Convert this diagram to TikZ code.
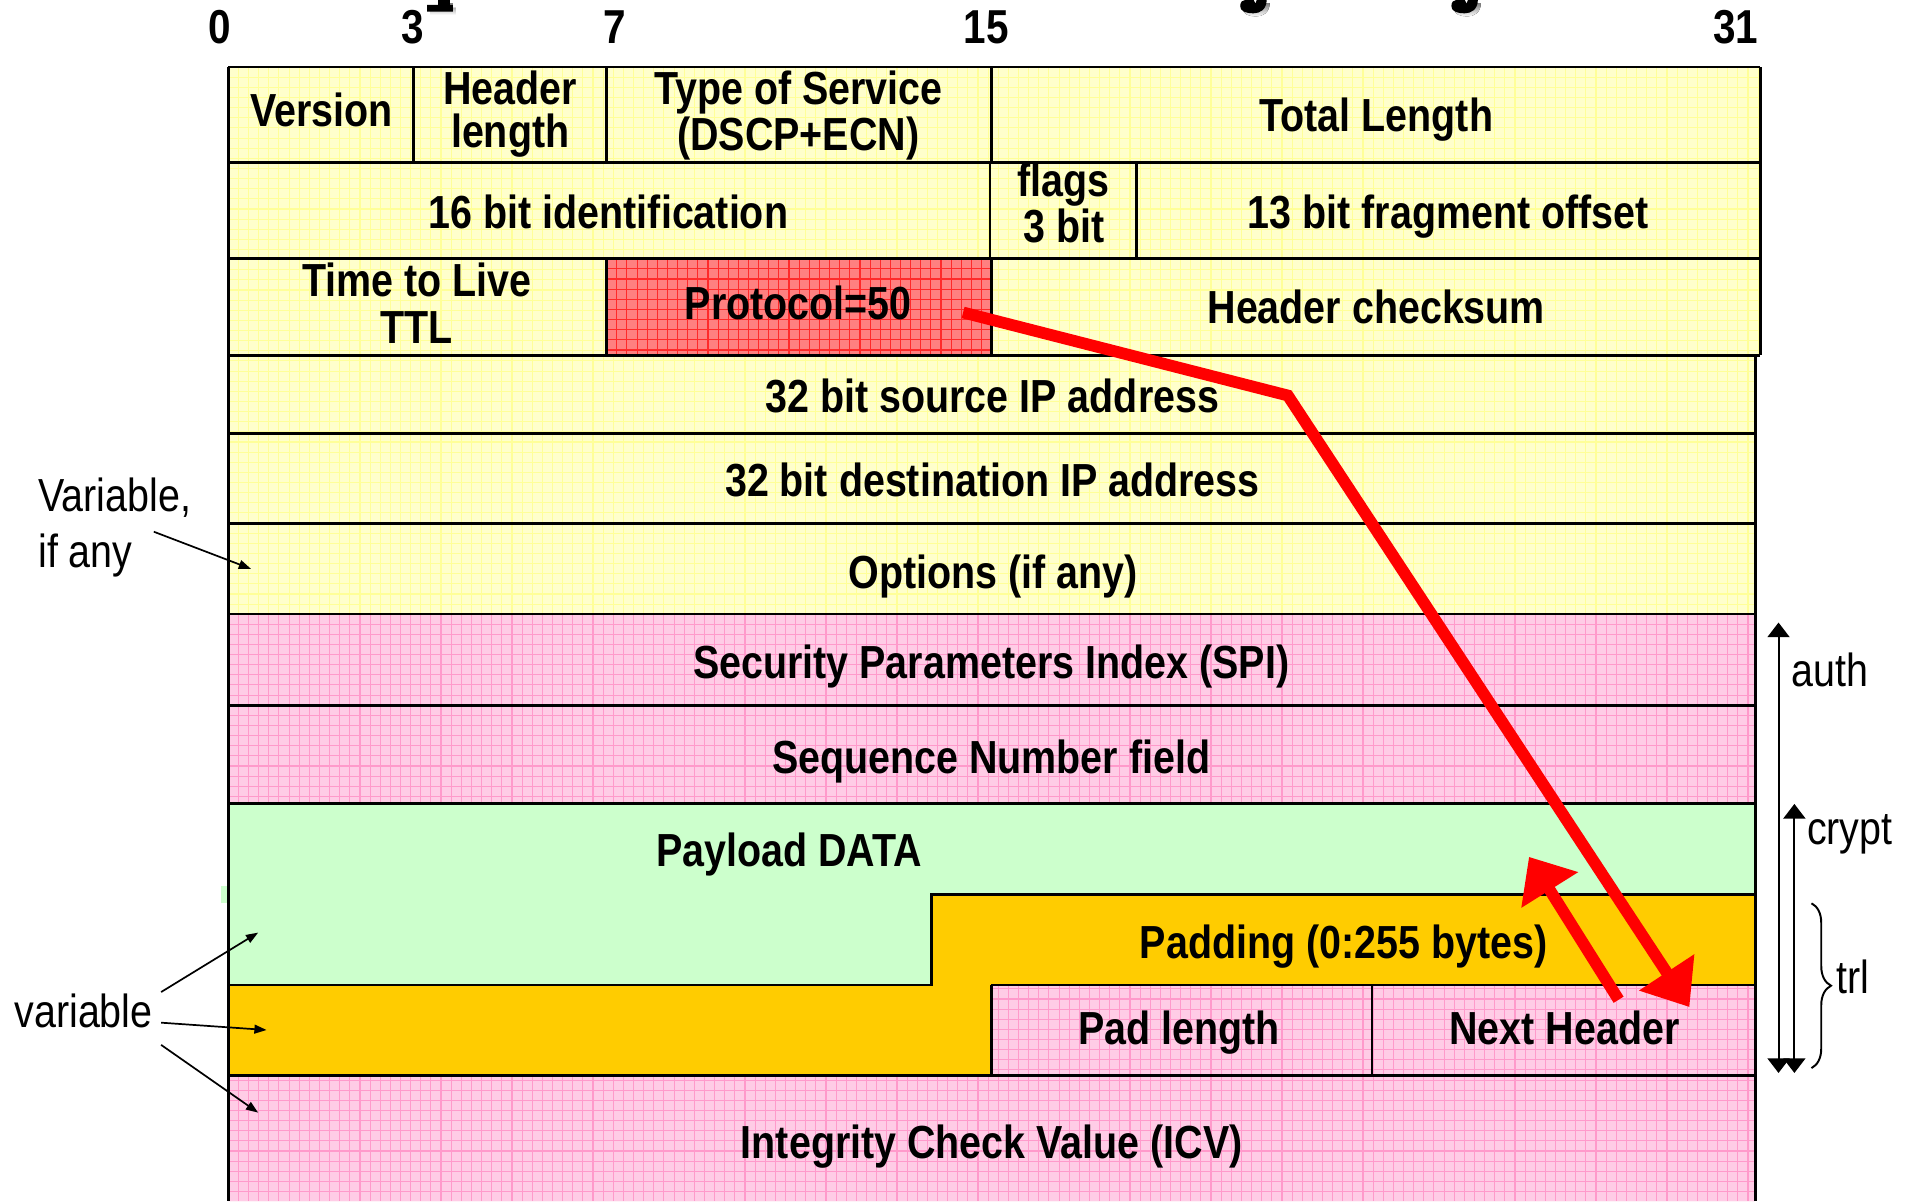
\documentclass[tikz,border=0pt]{standalone}
\usepackage{fontspec}
\setmainfont{Liberation Sans}[FakeStretch=0.85]
\usetikzlibrary{arrows.meta,decorations.pathreplacing}

\definecolor{ylwbg}{HTML}{FFFFCC}
\definecolor{ylwln}{HTML}{FFFF99}
\definecolor{pnkbg}{HTML}{FFCCE6}
\definecolor{pnkln}{HTML}{FF9ACB}
\definecolor{redbg}{HTML}{FF8080}
\definecolor{redln}{HTML}{FF2A2A}
\definecolor{grnbg}{HTML}{CCFFCC}
\definecolor{orgbg}{HTML}{FFCC00}
\definecolor{ptrred}{HTML}{FF0000}
\definecolor{shade}{HTML}{BDBDBD}

\begin{document}
\begin{tikzpicture}[x=0.5pt,y=-0.5pt,
  field/.style={font=\bfseries\fontsize{19}{17.5}\selectfont, inner sep=0pt, anchor=base, align=center},
  bitnum/.style={font=\bfseries\fontsize{19.5}{20}\selectfont, inner sep=0pt, anchor=base},
  note/.style={font=\fontsize{19}{23}\selectfont, inner sep=0pt, anchor=base west, align=left},
  rule/.style={line width=1.1pt, line join=miter},
  gridln/.style={line width=0.45pt},
  thinarrow/.style={line width=0.7pt, -{Triangle[length=5pt,width=3.6pt]}},
  spanarrow/.style={line width=0.8pt, {Triangle[length=6pt,width=9pt]}-{Triangle[length=6pt,width=9pt]}},
  pointer/.style={draw=ptrred, line width=4.8pt, line join=miter}
]
\useasboundingbox (0,0) rectangle (1568,984);

% ---- ends of the heading glyphs above the bit ruler ----
\begin{scope}[shift={(2.5,2.5)}]
  \fill[shade] (350,9.6) -- (350,4) -- (359,4) -- (359,0) -- (368.6,0) -- (368.6,4) -- (371,4) -- (371,9.6) -- cycle;
  \foreach \tx in {1016,1189}{
    \fill[shade,shift={(\tx,0)}] (21.7,0) .. controls (21.5,8) and (16,10.9) .. (11,10.9)
      .. controls (4,10.9) and (0,9) .. (0,5) .. controls (0,1.5) and (2,0) .. (4,0) -- (11,0)
      .. controls (11.5,2) .. (12.5,3) .. controls (13.2,2) .. (13.5,0) -- cycle;}
\end{scope}
\fill (350,9.6) -- (350,4) -- (359,4) -- (359,0) -- (368.6,0) -- (368.6,4) -- (371,4) -- (371,9.6) -- cycle;
\foreach \tx in {1016,1189}{
  \fill[shift={(\tx,0)}] (21.7,0) .. controls (21.5,8) and (16,10.9) .. (11,10.9)
    .. controls (4,10.9) and (0,9) .. (0,5) .. controls (0,1.5) and (2,0) .. (4,0) -- (11,0)
    .. controls (11.5,2) .. (12.5,3) .. controls (13.2,2) .. (13.5,0) -- cycle;}

% ---- bit ruler ----
\node[bitnum] (b0)  at (180,36)  {0};
\node[bitnum] (b3)  at (338,36)  {3};
\node[bitnum] (b7)  at (504,36)  {7};
\node[bitnum] (b15) at (808,36)  {15};
\node[bitnum] (b31) at (1422,36) {31};

% ---- IP header (yellow, gridded) ----
\begin{scope}
  \clip (187,55) rectangle (1442,291) (187,291) rectangle (1438,503);
  \fill[ylwbg] (187,55) rectangle (1442,503);
  \foreach \i in {0,...,152} \draw[gridln,ylwln] ({187+\i*8.3},55) -- ++(0,448);
  \foreach \j in {0,...,54}  \draw[gridln,ylwln] (187,{55+\j*8.3}) -- ++(1255,0);
\end{scope}

% ---- protocol field (red, gridded) ----
\begin{scope}
  \clip (497,212) rectangle (812,291);
  \fill[redbg] (497,212) rectangle (812,291);
  \foreach \i in {0,...,38} \draw[gridln,redln] ({497+\i*8.3},212) -- ++(0,79);
  \foreach \j in {0,...,10} \draw[gridln,redln] (497,{212+\j*8.3}) -- ++(315,0);
\end{scope}

% ---- ESP header, trailer fields and ICV (pink, gridded) ----
\begin{scope}
  \clip (187,503) rectangle (1438,658) (812,807) rectangle (1438,881) (187,881) rectangle (1438,984);
  \fill[pnkbg] (187,503) rectangle (1438,984);
  \foreach \i in {0,...,151} \draw[gridln,pnkln] ({187+\i*8.3},503) -- ++(0,481);
  \foreach \j in {0,...,58}  \draw[gridln,pnkln] (187,{503+\j*8.3}) -- ++(1251,0);
\end{scope}

% ---- payload (green) and padding (orange) ----
\fill[grnbg] (187,658) -- (1438,658) -- (1438,733) -- (763,733) -- (763,807) -- (187,807) -- cycle;
\fill[grnbg] (181,726) rectangle (186.5,740);
\fill[orgbg] (763,733) -- (1438,733) -- (1438,807) -- (812,807) -- (812,881) -- (187,881) -- (187,807) -- (763,807) -- cycle;

% ---- field borders ----
\draw[rule] (187,55) -- (1442,55);
\draw[rule] (187,133) -- (1442,133);
\draw[rule] (187,212) -- (1442,212);
\draw[rule] (187,291) -- (1442,291);
\draw[rule] (187,355) -- (1438,355);
\draw[rule] (187,429) -- (1438,429);
\draw[rule] (187,503) -- (1438,503);
\draw[rule] (187,578) -- (1438,578);
\draw[rule] (187,658) -- (1438,658);
\draw[rule] (187,807) -- (763,807) -- (763,733) -- (1438,733);
\draw[rule] (812,807) -- (1438,807);
\draw[rule] (187,881) -- (1438,881);
\draw[rule] (187,55) -- (187,984);
\draw[rule] (1442,55) -- (1442,291);
\draw[rule] (1438,291) -- (1438,984);
\draw[rule] (339,55) -- (339,133);
\draw[rule] (497,55) -- (497,133);
\draw[rule] (812,55) -- (812,133);
\draw[rule] (811,133) -- (811,212);
\draw[rule] (931,133) -- (931,212);
\draw[rule] (497,212) -- (497,291);
\draw[rule] (812,212) -- (812,291);
\draw[rule] (812,807) -- (812,881);
\draw[rule] (1124,807) -- (1124,881);

% ---- field names (two-line names sit on the baseline of their last line) ----
\node[field] (ver)    at (263.5,104) {Version};
\node[field] (hlen)   at (418,121)   {Header\\length};
\node[field] (tos)    at (654,123)   {Type of Service\\(DSCP+ECN)};
\node[field] (tlen)   at (1127.5,108) {Total Length};
\node[field] (ident)  at (498.5,187) {16 bit identification};
\node[field] (flags)  at (871.5,198.8) {flags\\3 bit};
\node[field] (frag)   at (1186.5,187) {13 bit fragment offset};
\node[field, font=\bfseries\fontsize{19}{19}\selectfont] (ttl) at (341.5,281) {Time to Live\\TTL};
\node[field] (proto)  at (654,262)   {Protocol=50};
\node[field] (hcsum)  at (1127.5,265) {Header checksum};
\node[field] (src)    at (813,338)   {32 bit source IP address};
\node[field] (dst)    at (813,407)   {32 bit destination IP address};
\node[field] (opts)   at (813.5,482) {Options (if any)};
\node[field] (spi)    at (812,556)   {Security Parameters Index (SPI)};
\node[field] (seq)    at (812,634)   {Sequence Number field};
\node[field] (data)   at (646.5,710) {Payload DATA};
\node[field] (pad)    at (1100.8,785) {Padding (0:255 bytes)};
\node[field] (padlen) at (966,856)   {Pad length};
\node[field] (nexthdr) at (1281.7,856) {Next Header};
\node[field] (icv)    at (812.5,949) {Integrity Check Value (ICV)};

% ---- side notes ----
\node[note] (varopt) at (31,465) {Variable,\\if any};
\node[note] (varlen) at (11.5,842) {variable};
\node[note] (auth)   at (1467,562) {auth};
\node[note] (crypt)  at (1480,692) {crypt};
\node[note] (trl)    at (1504,813.7) {trl};

\coordinate (vo-from) at (126,435.6);  \coordinate (vo-to) at (205.6,466);
\coordinate (vl-from1) at (132,812.7); \coordinate (vl-to1) at (211.5,764);
\coordinate (vl-from2) at (132,837.8); \coordinate (vl-to2) at (218.4,843.8);
\coordinate (vl-from3) at (132,856);   \coordinate (vl-to3) at (211.5,911.5);
\draw[thinarrow] (vo-from) -- (vo-to);
\draw[thinarrow] (vl-from1) -- (vl-to1);
\draw[thinarrow] (vl-from2) -- (vl-to2);
\draw[thinarrow] (vl-from3) -- (vl-to3);

% ---- coverage spans ----
\coordinate (auth-top)  at (1457,510);  \coordinate (auth-bot)  at (1457,879);
\coordinate (crypt-top) at (1470,658.6); \coordinate (crypt-bot) at (1470,879);
\coordinate (trl-top)   at (1484,740);  \coordinate (trl-bot)   at (1484,875);
\draw[spanarrow] (auth-bot) -- (auth-top);
\draw[spanarrow] (crypt-bot) -- (crypt-top);
\draw[line width=0.8pt, decorate, decoration={brace, amplitude=8pt}] (trl-top) -- (trl-bot);

% ---- next-header pointers ----
\coordinate (p-src)  at (789,256);
\coordinate (p-bend) at (1055,324);
\coordinate (nh-tip) at (1384,825);
\coordinate (nh-src) at (1326,819);
\coordinate (pad-tip) at (1252.6,702);
\draw[pointer, -{Triangle[length=17pt,width=26pt]}, ptrred] (p-src) -- (p-bend) -- (nh-tip);
\draw[pointer, -{Triangle[length=16pt,width=26.5pt]}, ptrred] (nh-src) -- (pad-tip);
\end{tikzpicture}
\end{document}
